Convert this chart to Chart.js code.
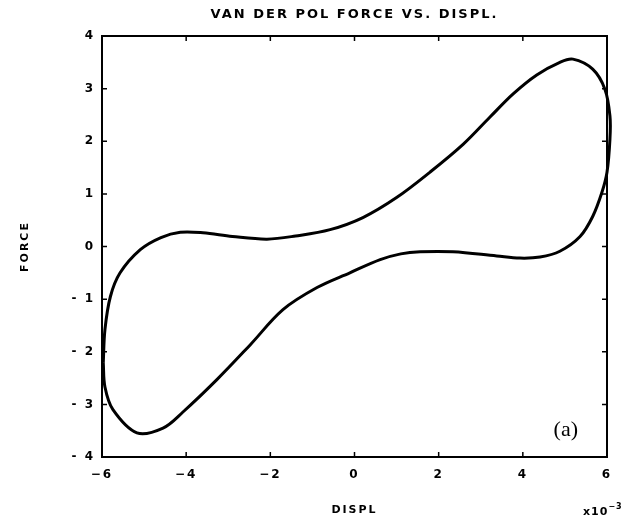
<!DOCTYPE html>
<html>
<head>
<meta charset="utf-8">
<script src="https://cdn.jsdelivr.net/npm/chart.js@4/dist/chart.umd.min.js"></script>
<style>
html,body{margin:0;padding:0;background:#fff;}
#wrap{width:634px;height:524px;}
</style>
</head>
<body>
<div id="wrap"><canvas id="c" width="634" height="524"></canvas></div>
<script>
// Displacement values (x10^-3) along the closed limit cycle
const displ = [-5.97,-5.93,-5.80,-5.57,-5.09,-4.60,-4.14,-3.60,-2.90,-2.08,-1.40,-0.58,0.20,1.00,1.79,2.58,3.22,3.77,4.33,4.88,5.19,5.66,5.95,6.07,6.07,6.00,5.88,5.66,5.36,4.88,4.41,3.93,3.38,2.34,1.56,1.10,0.61,-0.11,-0.89,-1.70,-2.48,-3.27,-4.07,-4.55,-5.17,-5.74,-5.93,-5.97];
// Force values along the same cycle
const force = [-2.21,-1.58,-0.95,-0.50,-0.06,0.17,0.27,0.26,0.19,0.14,0.20,0.32,0.55,0.93,1.41,1.94,2.46,2.90,3.26,3.50,3.56,3.37,2.99,2.48,2.04,1.41,1.03,0.57,0.19,-0.09,-0.20,-0.22,-0.18,-0.10,-0.10,-0.14,-0.25,-0.50,-0.78,-1.20,-1.87,-2.53,-3.14,-3.45,-3.54,-3.10,-2.67,-2.21];
const xTicks = [-6,-4,-2,0,2,4,6];
const yTicks = [-4,-3,-2,-1,0,1,2,3,4];
const titleText = "VAN DER POL FORCE VS. DISPL.";
const xLabel = "DISPL";
const yLabel = "FORCE";
const panelLabel = "(a)";

const pts = displ.map((d,i)=>({x:d,y:force[i]}));

const spacingPlugin = {
  id:'spacing',
  beforeDraw(chart){ chart.ctx.letterSpacing='2px'; }
};

const framePlugin = {
  id:'frame',
  afterDraw(chart){
    const {ctx, chartArea:a, scales:{x,y}} = chart;
    ctx.save();
    ctx.letterSpacing='0px';
    ctx.strokeStyle='#000';
    ctx.lineWidth=2;
    ctx.strokeRect(a.left,a.top,a.right-a.left,a.bottom-a.top);
    ctx.lineWidth=1.5;
    const tl=5;
    ctx.beginPath();
    xTicks.forEach(v=>{
      const px=x.getPixelForValue(v);
      ctx.moveTo(px,a.bottom);ctx.lineTo(px,a.bottom-tl);
      ctx.moveTo(px,a.top);ctx.lineTo(px,a.top+tl);
    });
    yTicks.forEach(v=>{
      const py=y.getPixelForValue(v);
      ctx.moveTo(a.left,py);ctx.lineTo(a.left+tl,py);
      ctx.moveTo(a.right,py);ctx.lineTo(a.right-tl,py);
    });
    ctx.stroke();
    // panel label
    ctx.fillStyle='#000';
    ctx.font='22px "Liberation Serif", serif';
    ctx.textAlign='center';ctx.textBaseline='middle';
    ctx.fillText(panelLabel, x.getPixelForValue(5.02), y.getPixelForValue(-3.49));
    // exponent label
    ctx.letterSpacing='1px';
    ctx.font='bold 11px "DejaVu Sans", sans-serif';
    ctx.textAlign='left';ctx.textBaseline='alphabetic';
    const bx=a.right-24, by=515;
    ctx.fillText('x10',bx,by);
    const w=ctx.measureText('x10').width;
    ctx.font='bold 8px "DejaVu Sans", sans-serif';
    ctx.fillText('−3',bx+w,by-6);
    ctx.restore();
  }
};

new Chart(document.getElementById('c'),{
  type:'scatter',
  data:{datasets:[{
    data:pts,
    showLine:true,
    borderColor:'#000',
    borderWidth:3,
    pointRadius:0,
    tension:0.35,
    fill:false,
    clip:8
  }]},
  options:{
    responsive:false,
    animation:false,
    devicePixelRatio:1,
    layout:{padding:{left:0,right:27,top:0,bottom:0}},
    plugins:{
      legend:{display:false},
      tooltip:{enabled:false},
      title:{display:true,text:titleText,color:'#000',fullSize:false,
        font:{family:'"DejaVu Sans", sans-serif',size:13,weight:'bold'},
        padding:{top:7,bottom:13.4}}
    },
    scales:{
      x:{type:'linear',min:-6,max:6,
        afterBuildTicks(s){s.ticks=xTicks.map(v=>({value:v}));},
        afterFit(s){s.height=67;},
        grid:{display:false,drawTicks:false},
        border:{display:false},
        ticks:{color:'#000',padding:11,font:{family:'"DejaVu Sans", sans-serif',size:12,weight:'bold'},
          callback:v=>v<0?'−'+Math.abs(v):String(v), maxRotation:0},
        title:{display:true,text:xLabel,color:'#000',padding:{top:0,bottom:7},
          font:{family:'"DejaVu Sans", sans-serif',size:11,weight:'bold'}}
      },
      y:{type:'linear',min:-4,max:4,
        afterBuildTicks(s){s.ticks=yTicks.map(v=>({value:v}));},
        afterFit(s){s.width=102;},
        grid:{display:false,drawTicks:false},
        border:{display:false},
        ticks:{color:'#000',padding:7,font:{family:'"DejaVu Sans", sans-serif',size:12,weight:'bold'},
          callback:v=>v<0?'- '+Math.abs(v):String(v)},
        title:{display:true,text:yLabel,color:'#000',padding:{top:19,bottom:0},
          font:{family:'"DejaVu Sans", sans-serif',size:11,weight:'bold'}}
      }
    }
  },
  plugins:[spacingPlugin, framePlugin]
});
</script>
</body>
</html>
